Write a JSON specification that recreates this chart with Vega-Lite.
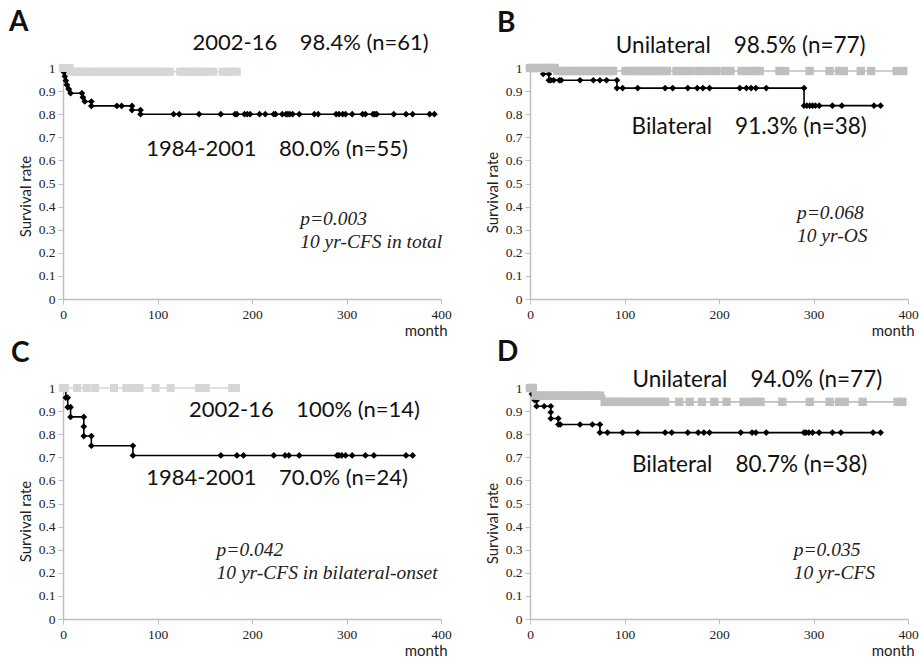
{
  "$schema": "https://vega.github.io/schema/vega-lite/v6.json",
  "background": "white",
  "padding": {"left": 9, "top": 8, "right": 3, "bottom": 0},
  "config": {
    "view": {"stroke": null},
    "axis": {"domainColor": "#bfbfbf", "tickColor": "#bfbfbf", "domainWidth": 1.5, "tickSize": 5, "labelFont": "Liberation Serif", "labelFontSize": 13.5, "labelColor": "#222", "grid": false, "labelPadding": 3, "labelOverlap": false, "labelFlush": false, "titleColor": "#222", "titleFont": "Lato", "titleFontSize": 15, "titleFontWeight": "normal"},
    "title": {"anchor": "start", "frame": "group", "font": "Lato", "fontSize": 28, "fontWeight": "bold", "color": "#111", "offset": 0}
  },
  "datasets": {
    "A1": [{"t":0,"s":1},{"t":1,"s":0.982},{"t":2,"s":0.964},{"t":3,"s":0.945},{"t":4,"s":0.927},{"t":6,"s":0.909},{"t":8,"s":0.891},{"t":20,"s":0.891},{"t":21,"s":0.873},{"t":23,"s":0.855},{"t":30,"s":0.855},{"t":30,"s":0.836},{"t":57,"s":0.836},{"t":62,"s":0.836},{"t":73,"s":0.836},{"t":73,"s":0.818},{"t":82,"s":0.818},{"t":82,"s":0.8},{"t":117,"s":0.8},{"t":123,"s":0.8},{"t":144,"s":0.8},{"t":167,"s":0.8},{"t":182,"s":0.8},{"t":184,"s":0.8},{"t":192,"s":0.8},{"t":195,"s":0.8},{"t":198,"s":0.8},{"t":208,"s":0.8},{"t":214,"s":0.8},{"t":223,"s":0.8},{"t":225,"s":0.8},{"t":232,"s":0.8},{"t":236,"s":0.8},{"t":238,"s":0.8},{"t":240,"s":0.8},{"t":243,"s":0.8},{"t":250,"s":0.8},{"t":266,"s":0.8},{"t":270,"s":0.8},{"t":289,"s":0.8},{"t":292,"s":0.8},{"t":296,"s":0.8},{"t":299,"s":0.8},{"t":306,"s":0.8},{"t":317,"s":0.8},{"t":320,"s":0.8},{"t":328,"s":0.8},{"t":330,"s":0.8},{"t":332,"s":0.8},{"t":350,"s":0.8},{"t":363,"s":0.8},{"t":370,"s":0.8},{"t":388,"s":0.8},{"t":393,"s":0.8}],
    "A2": [{"t":0,"s":1},{"t":3,"s":1},{"t":7,"s":1},{"t":8,"s":0.984},{"t":12,"s":0.984},{"t":15,"s":0.984},{"t":19,"s":0.984},{"t":22,"s":0.984},{"t":26,"s":0.984},{"t":29,"s":0.984},{"t":33,"s":0.984},{"t":36,"s":0.984},{"t":40,"s":0.984},{"t":43,"s":0.984},{"t":47,"s":0.984},{"t":50,"s":0.984},{"t":54,"s":0.984},{"t":57,"s":0.984},{"t":61,"s":0.984},{"t":64,"s":0.984},{"t":68,"s":0.984},{"t":71,"s":0.984},{"t":75,"s":0.984},{"t":78,"s":0.984},{"t":82,"s":0.984},{"t":85,"s":0.984},{"t":89,"s":0.984},{"t":92,"s":0.984},{"t":96,"s":0.984},{"t":99,"s":0.984},{"t":103,"s":0.984},{"t":106,"s":0.984},{"t":110,"s":0.984},{"t":113,"s":0.984},{"t":124,"s":0.984},{"t":127,"s":0.984},{"t":131,"s":0.984},{"t":134,"s":0.984},{"t":138,"s":0.984},{"t":141,"s":0.984},{"t":145,"s":0.984},{"t":148,"s":0.984},{"t":152,"s":0.984},{"t":155,"s":0.984},{"t":159,"s":0.984},{"t":169,"s":0.984},{"t":173,"s":0.984},{"t":177,"s":0.984},{"t":180,"s":0.984},{"t":184,"s":0.984}],
    "B1": [{"t":0,"s":1},{"t":14,"s":0.974},{"t":20,"s":0.974},{"t":20,"s":0.947},{"t":22,"s":0.947},{"t":25,"s":0.947},{"t":31,"s":0.947},{"t":33,"s":0.947},{"t":53,"s":0.947},{"t":67,"s":0.947},{"t":74,"s":0.947},{"t":81,"s":0.947},{"t":92,"s":0.947},{"t":92,"s":0.913},{"t":98,"s":0.913},{"t":114,"s":0.913},{"t":143,"s":0.913},{"t":151,"s":0.913},{"t":167,"s":0.913},{"t":177,"s":0.913},{"t":183,"s":0.913},{"t":190,"s":0.913},{"t":222,"s":0.913},{"t":229,"s":0.913},{"t":234,"s":0.913},{"t":239,"s":0.913},{"t":250,"s":0.913},{"t":290,"s":0.913},{"t":290,"s":0.837},{"t":293,"s":0.837},{"t":296,"s":0.837},{"t":299,"s":0.837},{"t":302,"s":0.837},{"t":306,"s":0.837},{"t":320,"s":0.837},{"t":330,"s":0.837},{"t":364,"s":0.837},{"t":371,"s":0.837}],
    "B2": [{"t":0,"s":1},{"t":3,"s":1},{"t":7,"s":1},{"t":11,"s":1},{"t":15,"s":1},{"t":19,"s":1},{"t":23,"s":1},{"t":26,"s":1},{"t":29,"s":0.987},{"t":33,"s":0.987},{"t":37,"s":0.987},{"t":41,"s":0.987},{"t":45,"s":0.987},{"t":49,"s":0.987},{"t":53,"s":0.987},{"t":57,"s":0.987},{"t":61,"s":0.987},{"t":65,"s":0.987},{"t":69,"s":0.987},{"t":73,"s":0.987},{"t":77,"s":0.987},{"t":81,"s":0.987},{"t":85,"s":0.987},{"t":88,"s":0.987},{"t":101,"s":0.987},{"t":105,"s":0.987},{"t":109,"s":0.987},{"t":113,"s":0.987},{"t":117,"s":0.987},{"t":121,"s":0.987},{"t":125,"s":0.987},{"t":129,"s":0.987},{"t":133,"s":0.987},{"t":137,"s":0.987},{"t":141,"s":0.987},{"t":145,"s":0.987},{"t":155,"s":0.987},{"t":160,"s":0.987},{"t":165,"s":0.987},{"t":170,"s":0.987},{"t":179,"s":0.987},{"t":184,"s":0.987},{"t":192,"s":0.987},{"t":197,"s":0.987},{"t":206,"s":0.987},{"t":212,"s":0.987},{"t":224,"s":0.987},{"t":229,"s":0.987},{"t":234,"s":0.987},{"t":239,"s":0.987},{"t":243,"s":0.987},{"t":264,"s":0.987},{"t":270,"s":0.987},{"t":296,"s":0.987},{"t":317,"s":0.987},{"t":327,"s":0.987},{"t":332,"s":0.987},{"t":350,"s":0.987},{"t":361,"s":0.987},{"t":388,"s":0.987},{"t":395,"s":0.987}],
    "C1": [{"t":0,"s":1},{"t":3,"s":0.958},{"t":5,"s":0.958},{"t":5,"s":0.917},{"t":8,"s":0.917},{"t":8,"s":0.875},{"t":22,"s":0.875},{"t":22,"s":0.833},{"t":22,"s":0.792},{"t":30,"s":0.792},{"t":30,"s":0.75},{"t":74,"s":0.75},{"t":74,"s":0.708},{"t":167,"s":0.708},{"t":184,"s":0.708},{"t":191,"s":0.708},{"t":223,"s":0.708},{"t":235,"s":0.708},{"t":239,"s":0.708},{"t":250,"s":0.708},{"t":290,"s":0.708},{"t":292,"s":0.708},{"t":295,"s":0.708},{"t":299,"s":0.708},{"t":306,"s":0.708},{"t":320,"s":0.708},{"t":329,"s":0.708},{"t":363,"s":0.708},{"t":370,"s":0.708}],
    "C2": [{"t":0,"s":1},{"t":2,"s":1},{"t":15,"s":1},{"t":25,"s":1},{"t":34,"s":1},{"t":54,"s":1},{"t":67,"s":1},{"t":74,"s":1},{"t":81,"s":1},{"t":98,"s":1},{"t":114,"s":1},{"t":144,"s":1},{"t":151,"s":1},{"t":179,"s":1},{"t":183,"s":1}],
    "D1": [{"t":0,"s":1},{"t":2,"s":0.974},{"t":5,"s":0.947},{"t":7,"s":0.947},{"t":7,"s":0.921},{"t":15,"s":0.921},{"t":22,"s":0.921},{"t":22,"s":0.895},{"t":22,"s":0.868},{"t":30,"s":0.868},{"t":30,"s":0.842},{"t":32,"s":0.842},{"t":53,"s":0.842},{"t":66,"s":0.842},{"t":74,"s":0.842},{"t":74,"s":0.807},{"t":82,"s":0.807},{"t":98,"s":0.807},{"t":114,"s":0.807},{"t":143,"s":0.807},{"t":150,"s":0.807},{"t":167,"s":0.807},{"t":178,"s":0.807},{"t":184,"s":0.807},{"t":190,"s":0.807},{"t":223,"s":0.807},{"t":235,"s":0.807},{"t":239,"s":0.807},{"t":250,"s":0.807},{"t":290,"s":0.807},{"t":292,"s":0.807},{"t":295,"s":0.807},{"t":299,"s":0.807},{"t":306,"s":0.807},{"t":320,"s":0.807},{"t":329,"s":0.807},{"t":363,"s":0.807},{"t":371,"s":0.807}],
    "D2": [{"t":0,"s":1},{"t":3,"s":1},{"t":6,"s":0.967},{"t":10,"s":0.967},{"t":14,"s":0.967},{"t":18,"s":0.967},{"t":22,"s":0.967},{"t":26,"s":0.967},{"t":30,"s":0.967},{"t":34,"s":0.967},{"t":38,"s":0.967},{"t":42,"s":0.967},{"t":46,"s":0.967},{"t":50,"s":0.967},{"t":54,"s":0.967},{"t":58,"s":0.967},{"t":62,"s":0.967},{"t":66,"s":0.967},{"t":70,"s":0.967},{"t":74,"s":0.967},{"t":79,"s":0.94},{"t":83,"s":0.94},{"t":87,"s":0.94},{"t":91,"s":0.94},{"t":95,"s":0.94},{"t":99,"s":0.94},{"t":103,"s":0.94},{"t":107,"s":0.94},{"t":111,"s":0.94},{"t":115,"s":0.94},{"t":119,"s":0.94},{"t":123,"s":0.94},{"t":127,"s":0.94},{"t":131,"s":0.94},{"t":135,"s":0.94},{"t":139,"s":0.94},{"t":143,"s":0.94},{"t":158,"s":0.94},{"t":169,"s":0.94},{"t":182,"s":0.94},{"t":195,"s":0.94},{"t":208,"s":0.94},{"t":226,"s":0.94},{"t":233,"s":0.94},{"t":240,"s":0.94},{"t":244,"s":0.94},{"t":267,"s":0.94},{"t":296,"s":0.94},{"t":317,"s":0.94},{"t":327,"s":0.94},{"t":333,"s":0.94},{"t":352,"s":0.94},{"t":389,"s":0.94},{"t":394,"s":0.94}],
    "LA": [{"label": "2002-16\u00a0\u00a0\u00a0 98.4% (n=61)"}],
    "LA2": [{"label": "1984-2001\u00a0\u00a0\u00a0 80.0% (n=55)"}],
    "LA3": [{"label": ["p=0.003", "10 yr-CFS in total"]}],
    "LB": [{"label": "Unilateral\u00a0\u00a0\u00a0 98.5% (n=77)"}],
    "LB2": [{"label": "Bilateral\u00a0\u00a0\u00a0 91.3% (n=38)"}],
    "LB3": [{"label": ["p=0.068", "10 yr-OS"]}],
    "LC": [{"label": "2002-16\u00a0\u00a0\u00a0 100% (n=14)"}],
    "LC2": [{"label": "1984-2001\u00a0\u00a0\u00a0 70.0% (n=24)"}],
    "LC3": [{"label": ["p=0.042", "10 yr-CFS in bilateral-onset"]}],
    "LD": [{"label": "Unilateral\u00a0\u00a0\u00a0 94.0% (n=77)"}],
    "LD2": [{"label": "Bilateral\u00a0\u00a0\u00a0 80.7% (n=38)"}],
    "LD3": [{"label": ["p=0.035", "10 yr-CFS"]}]
  },
  "columns": 2,
  "spacing": {"row": 89, "column": 89},
  "bounds": "flush",
  "concat": [
    {
      "title": {"text": "A", "dx": -54, "dy": 9},
      "width": 378, "height": 231,
      "layer": [
        {"data": {"name": "A1"}, "mark": {"type": "line", "interpolate": "step-after", "color": "#000", "strokeWidth": 1.6},
         "encoding": {
          "x": {"field": "t", "type": "quantitative", "scale": {"domain": [0, 400], "nice": false}, "axis": {"values": [0, 100, 200, 300, 400], "labelFont": "Liberation Serif", "labelOverlap": false, "title": "month", "titleAlign": "right", "titleAnchor": "end", "titleX": 384, "titleY": 24, "titleBaseline": "top"}},
          "y": {"field": "s", "type": "quantitative", "scale": {"domain": [0, 1], "nice": false}, "axis": {"values": [0, 0.1, 0.2, 0.3, 0.4, 0.5, 0.6, 0.7, 0.8, 0.9, 1], "labelFont": "Liberation Serif", "labelOverlap": false, "format": ".1~f", "title": "Survival rate", "titleX": -30, "titleY": 128}}}},
        {"data": {"name": "A1"}, "mark": {"type": "point", "shape": "diamond", "filled": true, "size": 45, "color": "#000", "opacity": 1},
         "encoding": {
          "x": {"field": "t", "type": "quantitative", "scale": {"domain": [0, 400], "nice": false}, "axis": {"values": [0, 100, 200, 300, 400], "labelFont": "Liberation Serif", "labelOverlap": false, "title": "month", "titleAlign": "right", "titleAnchor": "end", "titleX": 384, "titleY": 24, "titleBaseline": "top"}},
          "y": {"field": "s", "type": "quantitative", "scale": {"domain": [0, 1], "nice": false}, "axis": {"values": [0, 0.1, 0.2, 0.3, 0.4, 0.5, 0.6, 0.7, 0.8, 0.9, 1], "labelFont": "Liberation Serif", "labelOverlap": false, "format": ".1~f", "title": "Survival rate", "titleX": -30, "titleY": 128}}}},
        {"data": {"name": "A2"}, "mark": {"type": "line", "interpolate": "step-after", "color": "#d6d6d6", "strokeWidth": 1.6},
         "encoding": {
          "x": {"field": "t", "type": "quantitative", "scale": {"domain": [0, 400], "nice": false}, "axis": {"values": [0, 100, 200, 300, 400], "labelFont": "Liberation Serif", "labelOverlap": false, "title": "month", "titleAlign": "right", "titleAnchor": "end", "titleX": 384, "titleY": 24, "titleBaseline": "top"}},
          "y": {"field": "s", "type": "quantitative", "scale": {"domain": [0, 1], "nice": false}, "axis": {"values": [0, 0.1, 0.2, 0.3, 0.4, 0.5, 0.6, 0.7, 0.8, 0.9, 1], "labelFont": "Liberation Serif", "labelOverlap": false, "format": ".1~f", "title": "Survival rate", "titleX": -30, "titleY": 128}}}},
        {"data": {"name": "A2"}, "mark": {"type": "point", "shape": "square", "filled": true, "size": 64, "color": "#d6d6d6", "opacity": 1},
         "encoding": {
          "x": {"field": "t", "type": "quantitative", "scale": {"domain": [0, 400], "nice": false}, "axis": {"values": [0, 100, 200, 300, 400], "labelFont": "Liberation Serif", "labelOverlap": false, "title": "month", "titleAlign": "right", "titleAnchor": "end", "titleX": 384, "titleY": 24, "titleBaseline": "top"}},
          "y": {"field": "s", "type": "quantitative", "scale": {"domain": [0, 1], "nice": false}, "axis": {"values": [0, 0.1, 0.2, 0.3, 0.4, 0.5, 0.6, 0.7, 0.8, 0.9, 1], "labelFont": "Liberation Serif", "labelOverlap": false, "format": ".1~f", "title": "Survival rate", "titleX": -30, "titleY": 128}}}},
        {"data": {"name": "LA"}, "mark": {"type": "text", "font": "Lato", "fontSize": 22, "color": "#111", "align": "center", "baseline": "middle"},
         "encoding": {"text": {"field": "label"},
          "x": {"datum": 262, "type": "quantitative", "scale": {"domain": [0, 400], "nice": false}, "axis": {"values": [0, 100, 200, 300, 400], "labelFont": "Liberation Serif", "labelOverlap": false, "title": "month", "titleAlign": "right", "titleAnchor": "end", "titleX": 384, "titleY": 24, "titleBaseline": "top"}},
          "y": {"datum": 1.11, "type": "quantitative", "scale": {"domain": [0, 1], "nice": false}, "axis": {"values": [0, 0.1, 0.2, 0.3, 0.4, 0.5, 0.6, 0.7, 0.8, 0.9, 1], "labelFont": "Liberation Serif", "labelOverlap": false, "format": ".1~f", "title": "Survival rate", "titleX": -30, "titleY": 128}}}},
        {"data": {"name": "LA2"}, "mark": {"type": "text", "font": "Lato", "fontSize": 22, "color": "#111", "align": "center", "baseline": "middle"},
         "encoding": {"text": {"field": "label"},
          "x": {"datum": 226.5, "type": "quantitative", "scale": {"domain": [0, 400], "nice": false}, "axis": {"values": [0, 100, 200, 300, 400], "labelFont": "Liberation Serif", "labelOverlap": false, "title": "month", "titleAlign": "right", "titleAnchor": "end", "titleX": 384, "titleY": 24, "titleBaseline": "top"}},
          "y": {"datum": 0.651, "type": "quantitative", "scale": {"domain": [0, 1], "nice": false}, "axis": {"values": [0, 0.1, 0.2, 0.3, 0.4, 0.5, 0.6, 0.7, 0.8, 0.9, 1], "labelFont": "Liberation Serif", "labelOverlap": false, "format": ".1~f", "title": "Survival rate", "titleX": -30, "titleY": 128}}}},
        {"data": {"name": "LA3"}, "mark": {"type": "text", "font": "Liberation Serif", "fontStyle": "italic", "fontSize": 19.5, "lineHeight": 23, "color": "#222", "align": "left", "baseline": "middle"},
         "encoding": {"text": {"field": "label"},
          "x": {"datum": 251, "type": "quantitative", "scale": {"domain": [0, 400], "nice": false}, "axis": {"values": [0, 100, 200, 300, 400], "labelFont": "Liberation Serif", "labelOverlap": false, "title": "month", "titleAlign": "right", "titleAnchor": "end", "titleX": 384, "titleY": 24, "titleBaseline": "top"}},
          "y": {"datum": 0.348, "type": "quantitative", "scale": {"domain": [0, 1], "nice": false}, "axis": {"values": [0, 0.1, 0.2, 0.3, 0.4, 0.5, 0.6, 0.7, 0.8, 0.9, 1], "labelFont": "Liberation Serif", "labelOverlap": false, "format": ".1~f", "title": "Survival rate", "titleX": -30, "titleY": 128}}}}
      ]
    },
    {
      "title": {"text": "B", "dx": -33, "dy": 7},
      "width": 378, "height": 231,
      "layer": [
        {"data": {"name": "B1"}, "mark": {"type": "line", "interpolate": "step-after", "color": "#000", "strokeWidth": 1.6},
         "encoding": {
          "x": {"field": "t", "type": "quantitative", "scale": {"domain": [0, 400], "nice": false}, "axis": {"values": [0, 100, 200, 300, 400], "labelFont": "Liberation Serif", "labelOverlap": false, "title": "month", "titleAlign": "right", "titleAnchor": "end", "titleX": 384, "titleY": 24, "titleBaseline": "top"}},
          "y": {"field": "s", "type": "quantitative", "scale": {"domain": [0, 1], "nice": false}, "axis": {"values": [0, 0.1, 0.2, 0.3, 0.4, 0.5, 0.6, 0.7, 0.8, 0.9, 1], "labelFont": "Liberation Serif", "labelOverlap": false, "format": ".1~f", "title": "Survival rate", "titleX": -30, "titleY": 124}}}},
        {"data": {"name": "B1"}, "mark": {"type": "point", "shape": "diamond", "filled": true, "size": 45, "color": "#000", "opacity": 1},
         "encoding": {
          "x": {"field": "t", "type": "quantitative", "scale": {"domain": [0, 400], "nice": false}, "axis": {"values": [0, 100, 200, 300, 400], "labelFont": "Liberation Serif", "labelOverlap": false, "title": "month", "titleAlign": "right", "titleAnchor": "end", "titleX": 384, "titleY": 24, "titleBaseline": "top"}},
          "y": {"field": "s", "type": "quantitative", "scale": {"domain": [0, 1], "nice": false}, "axis": {"values": [0, 0.1, 0.2, 0.3, 0.4, 0.5, 0.6, 0.7, 0.8, 0.9, 1], "labelFont": "Liberation Serif", "labelOverlap": false, "format": ".1~f", "title": "Survival rate", "titleX": -30, "titleY": 124}}}},
        {"data": {"name": "B2"}, "mark": {"type": "line", "interpolate": "step-after", "color": "#bfbfbf", "strokeWidth": 1.6},
         "encoding": {
          "x": {"field": "t", "type": "quantitative", "scale": {"domain": [0, 400], "nice": false}, "axis": {"values": [0, 100, 200, 300, 400], "labelFont": "Liberation Serif", "labelOverlap": false, "title": "month", "titleAlign": "right", "titleAnchor": "end", "titleX": 384, "titleY": 24, "titleBaseline": "top"}},
          "y": {"field": "s", "type": "quantitative", "scale": {"domain": [0, 1], "nice": false}, "axis": {"values": [0, 0.1, 0.2, 0.3, 0.4, 0.5, 0.6, 0.7, 0.8, 0.9, 1], "labelFont": "Liberation Serif", "labelOverlap": false, "format": ".1~f", "title": "Survival rate", "titleX": -30, "titleY": 124}}}},
        {"data": {"name": "B2"}, "mark": {"type": "point", "shape": "square", "filled": true, "size": 70, "color": "#bfbfbf", "opacity": 1},
         "encoding": {
          "x": {"field": "t", "type": "quantitative", "scale": {"domain": [0, 400], "nice": false}, "axis": {"values": [0, 100, 200, 300, 400], "labelFont": "Liberation Serif", "labelOverlap": false, "title": "month", "titleAlign": "right", "titleAnchor": "end", "titleX": 384, "titleY": 24, "titleBaseline": "top"}},
          "y": {"field": "s", "type": "quantitative", "scale": {"domain": [0, 1], "nice": false}, "axis": {"values": [0, 0.1, 0.2, 0.3, 0.4, 0.5, 0.6, 0.7, 0.8, 0.9, 1], "labelFont": "Liberation Serif", "labelOverlap": false, "format": ".1~f", "title": "Survival rate", "titleX": -30, "titleY": 124}}}},
        {"data": {"name": "LB"}, "mark": {"type": "text", "font": "Lato", "fontSize": 22.5, "color": "#111", "align": "center", "baseline": "middle"},
         "encoding": {"text": {"field": "label"},
          "x": {"datum": 223, "type": "quantitative", "scale": {"domain": [0, 400], "nice": false}, "axis": {"values": [0, 100, 200, 300, 400], "labelFont": "Liberation Serif", "labelOverlap": false, "title": "month", "titleAlign": "right", "titleAnchor": "end", "titleX": 384, "titleY": 24, "titleBaseline": "top"}},
          "y": {"datum": 1.096, "type": "quantitative", "scale": {"domain": [0, 1], "nice": false}, "axis": {"values": [0, 0.1, 0.2, 0.3, 0.4, 0.5, 0.6, 0.7, 0.8, 0.9, 1], "labelFont": "Liberation Serif", "labelOverlap": false, "format": ".1~f", "title": "Survival rate", "titleX": -30, "titleY": 124}}}},
        {"data": {"name": "LB2"}, "mark": {"type": "text", "font": "Lato", "fontSize": 22.5, "color": "#111", "align": "center", "baseline": "middle"},
         "encoding": {"text": {"field": "label"},
          "x": {"datum": 232, "type": "quantitative", "scale": {"domain": [0, 400], "nice": false}, "axis": {"values": [0, 100, 200, 300, 400], "labelFont": "Liberation Serif", "labelOverlap": false, "title": "month", "titleAlign": "right", "titleAnchor": "end", "titleX": 384, "titleY": 24, "titleBaseline": "top"}},
          "y": {"datum": 0.745, "type": "quantitative", "scale": {"domain": [0, 1], "nice": false}, "axis": {"values": [0, 0.1, 0.2, 0.3, 0.4, 0.5, 0.6, 0.7, 0.8, 0.9, 1], "labelFont": "Liberation Serif", "labelOverlap": false, "format": ".1~f", "title": "Survival rate", "titleX": -30, "titleY": 124}}}},
        {"data": {"name": "LB3"}, "mark": {"type": "text", "font": "Liberation Serif", "fontStyle": "italic", "fontSize": 19.5, "lineHeight": 23, "color": "#222", "align": "left", "baseline": "middle"},
         "encoding": {"text": {"field": "label"},
          "x": {"datum": 282.5, "type": "quantitative", "scale": {"domain": [0, 400], "nice": false}, "axis": {"values": [0, 100, 200, 300, 400], "labelFont": "Liberation Serif", "labelOverlap": false, "title": "month", "titleAlign": "right", "titleAnchor": "end", "titleX": 384, "titleY": 24, "titleBaseline": "top"}},
          "y": {"datum": 0.373, "type": "quantitative", "scale": {"domain": [0, 1], "nice": false}, "axis": {"values": [0, 0.1, 0.2, 0.3, 0.4, 0.5, 0.6, 0.7, 0.8, 0.9, 1], "labelFont": "Liberation Serif", "labelOverlap": false, "format": ".1~f", "title": "Survival rate", "titleX": -30, "titleY": 124}}}}
      ]
    },
    {
      "title": {"text": "C", "dx": -52, "dy": -9},
      "width": 378, "height": 231,
      "layer": [
        {"data": {"name": "C1"}, "mark": {"type": "line", "interpolate": "step-after", "color": "#000", "strokeWidth": 1.6},
         "encoding": {
          "x": {"field": "t", "type": "quantitative", "scale": {"domain": [0, 400], "nice": false}, "axis": {"values": [0, 100, 200, 300, 400], "labelFont": "Liberation Serif", "labelOverlap": false, "title": "month", "titleAlign": "right", "titleAnchor": "end", "titleX": 384, "titleY": 24, "titleBaseline": "top"}},
          "y": {"field": "s", "type": "quantitative", "scale": {"domain": [0, 1], "nice": false}, "axis": {"values": [0, 0.1, 0.2, 0.3, 0.4, 0.5, 0.6, 0.7, 0.8, 0.9, 1], "labelFont": "Liberation Serif", "labelOverlap": false, "format": ".1~f", "title": "Survival rate", "titleX": -30, "titleY": 133}}}},
        {"data": {"name": "C1"}, "mark": {"type": "point", "shape": "diamond", "filled": true, "size": 45, "color": "#000", "opacity": 1},
         "encoding": {
          "x": {"field": "t", "type": "quantitative", "scale": {"domain": [0, 400], "nice": false}, "axis": {"values": [0, 100, 200, 300, 400], "labelFont": "Liberation Serif", "labelOverlap": false, "title": "month", "titleAlign": "right", "titleAnchor": "end", "titleX": 384, "titleY": 24, "titleBaseline": "top"}},
          "y": {"field": "s", "type": "quantitative", "scale": {"domain": [0, 1], "nice": false}, "axis": {"values": [0, 0.1, 0.2, 0.3, 0.4, 0.5, 0.6, 0.7, 0.8, 0.9, 1], "labelFont": "Liberation Serif", "labelOverlap": false, "format": ".1~f", "title": "Survival rate", "titleX": -30, "titleY": 133}}}},
        {"data": {"name": "C2"}, "mark": {"type": "line", "interpolate": "step-after", "color": "#d6d6d6", "strokeWidth": 1.6},
         "encoding": {
          "x": {"field": "t", "type": "quantitative", "scale": {"domain": [0, 400], "nice": false}, "axis": {"values": [0, 100, 200, 300, 400], "labelFont": "Liberation Serif", "labelOverlap": false, "title": "month", "titleAlign": "right", "titleAnchor": "end", "titleX": 384, "titleY": 24, "titleBaseline": "top"}},
          "y": {"field": "s", "type": "quantitative", "scale": {"domain": [0, 1], "nice": false}, "axis": {"values": [0, 0.1, 0.2, 0.3, 0.4, 0.5, 0.6, 0.7, 0.8, 0.9, 1], "labelFont": "Liberation Serif", "labelOverlap": false, "format": ".1~f", "title": "Survival rate", "titleX": -30, "titleY": 133}}}},
        {"data": {"name": "C2"}, "mark": {"type": "point", "shape": "square", "filled": true, "size": 64, "color": "#d6d6d6", "opacity": 1},
         "encoding": {
          "x": {"field": "t", "type": "quantitative", "scale": {"domain": [0, 400], "nice": false}, "axis": {"values": [0, 100, 200, 300, 400], "labelFont": "Liberation Serif", "labelOverlap": false, "title": "month", "titleAlign": "right", "titleAnchor": "end", "titleX": 384, "titleY": 24, "titleBaseline": "top"}},
          "y": {"field": "s", "type": "quantitative", "scale": {"domain": [0, 1], "nice": false}, "axis": {"values": [0, 0.1, 0.2, 0.3, 0.4, 0.5, 0.6, 0.7, 0.8, 0.9, 1], "labelFont": "Liberation Serif", "labelOverlap": false, "format": ".1~f", "title": "Survival rate", "titleX": -30, "titleY": 133}}}},
        {"data": {"name": "LC"}, "mark": {"type": "text", "font": "Lato", "fontSize": 22, "color": "#111", "align": "center", "baseline": "middle"},
         "encoding": {"text": {"field": "label"},
          "x": {"datum": 255.5, "type": "quantitative", "scale": {"domain": [0, 400], "nice": false}, "axis": {"values": [0, 100, 200, 300, 400], "labelFont": "Liberation Serif", "labelOverlap": false, "title": "month", "titleAlign": "right", "titleAnchor": "end", "titleX": 384, "titleY": 24, "titleBaseline": "top"}},
          "y": {"datum": 0.905, "type": "quantitative", "scale": {"domain": [0, 1], "nice": false}, "axis": {"values": [0, 0.1, 0.2, 0.3, 0.4, 0.5, 0.6, 0.7, 0.8, 0.9, 1], "labelFont": "Liberation Serif", "labelOverlap": false, "format": ".1~f", "title": "Survival rate", "titleX": -30, "titleY": 133}}}},
        {"data": {"name": "LC2"}, "mark": {"type": "text", "font": "Lato", "fontSize": 22, "color": "#111", "align": "center", "baseline": "middle"},
         "encoding": {"text": {"field": "label"},
          "x": {"datum": 226.5, "type": "quantitative", "scale": {"domain": [0, 400], "nice": false}, "axis": {"values": [0, 100, 200, 300, 400], "labelFont": "Liberation Serif", "labelOverlap": false, "title": "month", "titleAlign": "right", "titleAnchor": "end", "titleX": 384, "titleY": 24, "titleBaseline": "top"}},
          "y": {"datum": 0.61, "type": "quantitative", "scale": {"domain": [0, 1], "nice": false}, "axis": {"values": [0, 0.1, 0.2, 0.3, 0.4, 0.5, 0.6, 0.7, 0.8, 0.9, 1], "labelFont": "Liberation Serif", "labelOverlap": false, "format": ".1~f", "title": "Survival rate", "titleX": -30, "titleY": 133}}}},
        {"data": {"name": "LC3"}, "mark": {"type": "text", "font": "Liberation Serif", "fontStyle": "italic", "fontSize": 19.5, "lineHeight": 23, "color": "#222", "align": "left", "baseline": "middle"},
         "encoding": {"text": {"field": "label"},
          "x": {"datum": 162.5, "type": "quantitative", "scale": {"domain": [0, 400], "nice": false}, "axis": {"values": [0, 100, 200, 300, 400], "labelFont": "Liberation Serif", "labelOverlap": false, "title": "month", "titleAlign": "right", "titleAnchor": "end", "titleX": 384, "titleY": 24, "titleBaseline": "top"}},
          "y": {"datum": 0.3, "type": "quantitative", "scale": {"domain": [0, 1], "nice": false}, "axis": {"values": [0, 0.1, 0.2, 0.3, 0.4, 0.5, 0.6, 0.7, 0.8, 0.9, 1], "labelFont": "Liberation Serif", "labelOverlap": false, "format": ".1~f", "title": "Survival rate", "titleX": -30, "titleY": 133}}}}
      ]
    },
    {
      "title": {"text": "D", "dx": -33, "dy": 2},
      "width": 378, "height": 231,
      "layer": [
        {"data": {"name": "D1"}, "mark": {"type": "line", "interpolate": "step-after", "color": "#000", "strokeWidth": 1.6},
         "encoding": {
          "x": {"field": "t", "type": "quantitative", "scale": {"domain": [0, 400], "nice": false}, "axis": {"values": [0, 100, 200, 300, 400], "labelFont": "Liberation Serif", "labelOverlap": false, "title": "month", "titleAlign": "right", "titleAnchor": "end", "titleX": 384, "titleY": 24, "titleBaseline": "top"}},
          "y": {"field": "s", "type": "quantitative", "scale": {"domain": [0, 1], "nice": false}, "axis": {"values": [0, 0.1, 0.2, 0.3, 0.4, 0.5, 0.6, 0.7, 0.8, 0.9, 1], "labelFont": "Liberation Serif", "labelOverlap": false, "format": ".1~f", "title": "Survival rate", "titleX": -30, "titleY": 135}}}},
        {"data": {"name": "D1"}, "mark": {"type": "point", "shape": "diamond", "filled": true, "size": 45, "color": "#000", "opacity": 1},
         "encoding": {
          "x": {"field": "t", "type": "quantitative", "scale": {"domain": [0, 400], "nice": false}, "axis": {"values": [0, 100, 200, 300, 400], "labelFont": "Liberation Serif", "labelOverlap": false, "title": "month", "titleAlign": "right", "titleAnchor": "end", "titleX": 384, "titleY": 24, "titleBaseline": "top"}},
          "y": {"field": "s", "type": "quantitative", "scale": {"domain": [0, 1], "nice": false}, "axis": {"values": [0, 0.1, 0.2, 0.3, 0.4, 0.5, 0.6, 0.7, 0.8, 0.9, 1], "labelFont": "Liberation Serif", "labelOverlap": false, "format": ".1~f", "title": "Survival rate", "titleX": -30, "titleY": 135}}}},
        {"data": {"name": "D2"}, "mark": {"type": "line", "interpolate": "step-after", "color": "#bfbfbf", "strokeWidth": 1.6},
         "encoding": {
          "x": {"field": "t", "type": "quantitative", "scale": {"domain": [0, 400], "nice": false}, "axis": {"values": [0, 100, 200, 300, 400], "labelFont": "Liberation Serif", "labelOverlap": false, "title": "month", "titleAlign": "right", "titleAnchor": "end", "titleX": 384, "titleY": 24, "titleBaseline": "top"}},
          "y": {"field": "s", "type": "quantitative", "scale": {"domain": [0, 1], "nice": false}, "axis": {"values": [0, 0.1, 0.2, 0.3, 0.4, 0.5, 0.6, 0.7, 0.8, 0.9, 1], "labelFont": "Liberation Serif", "labelOverlap": false, "format": ".1~f", "title": "Survival rate", "titleX": -30, "titleY": 135}}}},
        {"data": {"name": "D2"}, "mark": {"type": "point", "shape": "square", "filled": true, "size": 70, "color": "#bfbfbf", "opacity": 1},
         "encoding": {
          "x": {"field": "t", "type": "quantitative", "scale": {"domain": [0, 400], "nice": false}, "axis": {"values": [0, 100, 200, 300, 400], "labelFont": "Liberation Serif", "labelOverlap": false, "title": "month", "titleAlign": "right", "titleAnchor": "end", "titleX": 384, "titleY": 24, "titleBaseline": "top"}},
          "y": {"field": "s", "type": "quantitative", "scale": {"domain": [0, 1], "nice": false}, "axis": {"values": [0, 0.1, 0.2, 0.3, 0.4, 0.5, 0.6, 0.7, 0.8, 0.9, 1], "labelFont": "Liberation Serif", "labelOverlap": false, "format": ".1~f", "title": "Survival rate", "titleX": -30, "titleY": 135}}}},
        {"data": {"name": "LD"}, "mark": {"type": "text", "font": "Lato", "fontSize": 22.5, "color": "#111", "align": "center", "baseline": "middle"},
         "encoding": {"text": {"field": "label"},
          "x": {"datum": 240.6, "type": "quantitative", "scale": {"domain": [0, 400], "nice": false}, "axis": {"values": [0, 100, 200, 300, 400], "labelFont": "Liberation Serif", "labelOverlap": false, "title": "month", "titleAlign": "right", "titleAnchor": "end", "titleX": 384, "titleY": 24, "titleBaseline": "top"}},
          "y": {"datum": 1.033, "type": "quantitative", "scale": {"domain": [0, 1], "nice": false}, "axis": {"values": [0, 0.1, 0.2, 0.3, 0.4, 0.5, 0.6, 0.7, 0.8, 0.9, 1], "labelFont": "Liberation Serif", "labelOverlap": false, "format": ".1~f", "title": "Survival rate", "titleX": -30, "titleY": 135}}}},
        {"data": {"name": "LD2"}, "mark": {"type": "text", "font": "Lato", "fontSize": 22.5, "color": "#111", "align": "center", "baseline": "middle"},
         "encoding": {"text": {"field": "label"},
          "x": {"datum": 232.4, "type": "quantitative", "scale": {"domain": [0, 400], "nice": false}, "axis": {"values": [0, 100, 200, 300, 400], "labelFont": "Liberation Serif", "labelOverlap": false, "title": "month", "titleAlign": "right", "titleAnchor": "end", "titleX": 384, "titleY": 24, "titleBaseline": "top"}},
          "y": {"datum": 0.666, "type": "quantitative", "scale": {"domain": [0, 1], "nice": false}, "axis": {"values": [0, 0.1, 0.2, 0.3, 0.4, 0.5, 0.6, 0.7, 0.8, 0.9, 1], "labelFont": "Liberation Serif", "labelOverlap": false, "format": ".1~f", "title": "Survival rate", "titleX": -30, "titleY": 135}}}},
        {"data": {"name": "LD3"}, "mark": {"type": "text", "font": "Liberation Serif", "fontStyle": "italic", "fontSize": 19.5, "lineHeight": 23, "color": "#222", "align": "left", "baseline": "middle"},
         "encoding": {"text": {"field": "label"},
          "x": {"datum": 279, "type": "quantitative", "scale": {"domain": [0, 400], "nice": false}, "axis": {"values": [0, 100, 200, 300, 400], "labelFont": "Liberation Serif", "labelOverlap": false, "title": "month", "titleAlign": "right", "titleAnchor": "end", "titleX": 384, "titleY": 24, "titleBaseline": "top"}},
          "y": {"datum": 0.3, "type": "quantitative", "scale": {"domain": [0, 1], "nice": false}, "axis": {"values": [0, 0.1, 0.2, 0.3, 0.4, 0.5, 0.6, 0.7, 0.8, 0.9, 1], "labelFont": "Liberation Serif", "labelOverlap": false, "format": ".1~f", "title": "Survival rate", "titleX": -30, "titleY": 135}}}}
      ]
    }
  ]
}
